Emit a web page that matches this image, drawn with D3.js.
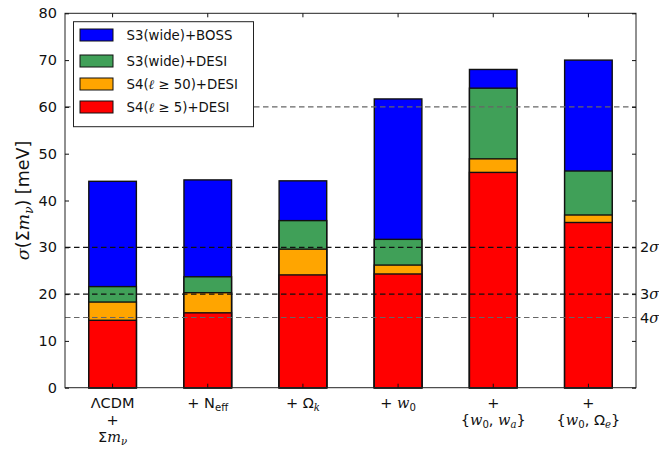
<!DOCTYPE html>
<html><head><meta charset="utf-8">
<script src="https://cdn.jsdelivr.net/npm/d3@7"></script>
<style>body{margin:0;background:#fff}svg{display:block}text{font-family:"DejaVu Sans",sans-serif;}</style>
</head><body><svg id="c" width="659" height="449"></svg>
<script>
const categories = ["LCDM", "Neff", "Ok", "w0", "w0wa", "w0Oe"];
const seriesNames = ["S3(wide)+BOSS", "S3(wide)+DESI", "S4(l>=50)+DESI", "S4(l>=5)+DESI"];
const s3Boss  = [44.1, 44.4, 44.2, 61.7, 68.0, 70.0];
const s3Desi  = [21.6, 23.7, 35.7, 31.7, 64.0, 46.3];
const s4l50   = [18.3, 20.3, 29.6, 26.2, 48.9, 36.9];
const s4l5    = [14.4, 16.0, 24.1, 24.3, 46.0, 35.3];
const seriesColors = ["#0000ff", "#40a058", "#ffa500", "#ff0000"];
const refLines = [60, 30, 20, 15];
const refLabels = ["", "2", "3", "4"];
const yTicks = [0, 10, 20, 30, 40, 50, 60, 70, 80];

const svg = d3.select("#c");
const m = {l: 65, r: 636, t: 13.3, b: 387.7};
const x = d3.scaleBand().domain(categories).range([m.l, m.r]).paddingInner(0.5).paddingOuter(0.25);
const y = d3.scaleLinear().domain([0, 80]).range([m.b, m.t]);
const series = [s3Boss, s3Desi, s4l50, s4l5];

// bars
series.forEach((vals, si) => {
  svg.append("g").selectAll("rect").data(vals).join("rect")
    .attr("x", (d, i) => x(categories[i]))
    .attr("width", x.bandwidth())
    .attr("y", d => y(d))
    .attr("height", d => y(0) - y(d))
    .attr("fill", seriesColors[si])
    .attr("stroke", "#111").attr("stroke-width", 1.4);
});

// reference lines
svg.append("g").selectAll("line").data(refLines).join("line")
  .attr("x1", m.l).attr("x2", m.r)
  .attr("y1", d => y(d)).attr("y2", d => y(d))
  .attr("stroke", (d, i) => (i === 0 || i === 3) ? "#666" : "#111")
  .attr("stroke-width", 1.2).attr("stroke-dasharray", "5.5,3.5");

// right labels
refLines.forEach((v, i) => {
  if (!refLabels[i]) return;
  const t = svg.append("text").attr("x", 640).attr("y", y(v)).attr("dy", "0.35em")
    .attr("font-size", 14.5).attr("fill", "#111");
  t.append("tspan").text(refLabels[i]);
  t.append("tspan").attr("font-family", "DejaVu Serif").attr("font-style", "italic").text("σ");
});

// frame
svg.append("rect").attr("x", m.l).attr("y", m.t).attr("width", m.r - m.l).attr("height", m.b - m.t)
  .attr("fill", "none").attr("stroke", "#222").attr("stroke-width", 1);

// y axis ticks (inward) left and right
const yAxL = d3.axisLeft(y).tickValues(yTicks).tickSizeInner(-4).tickSizeOuter(0).tickPadding(8);
const gL = svg.append("g").attr("transform", `translate(${m.l},0)`).call(yAxL);
gL.select(".domain").remove();
gL.selectAll("text").attr("font-size", 14.5).attr("fill", "#111").attr("font-family", "DejaVu Sans");
gL.selectAll("line").attr("stroke", "#111");
const yAxR = d3.axisRight(y).tickValues(yTicks).tickSizeInner(-4).tickSizeOuter(0).tickFormat("");
const gR = svg.append("g").attr("transform", `translate(${m.r},0)`).call(yAxR);
gR.select(".domain").remove();
gR.selectAll("line").attr("stroke", "#111");

// x ticks bottom and top inward
const xc = c => x(c) + x.bandwidth() / 2;
const xAxB = d3.axisBottom(x).tickSizeInner(-4).tickSizeOuter(0).tickFormat("");
const gB = svg.append("g").attr("transform", `translate(0,${m.b})`).call(xAxB);
gB.select(".domain").remove(); gB.selectAll("line").attr("stroke", "#111");
const xAxT = d3.axisTop(x).tickSizeInner(-4).tickSizeOuter(0).tickFormat("");
const gT = svg.append("g").attr("transform", `translate(0,${m.t})`).call(xAxT);
gT.select(".domain").remove(); gT.selectAll("line").attr("stroke", "#111");

// x labels
const fs = 14.5;
function lbl(cx, yb, parts) {
  const t = svg.append("text").attr("x", cx).attr("y", yb).attr("text-anchor", "middle")
    .attr("font-size", fs).attr("fill", "#111");
  parts.forEach(p => {
    const s = t.append("tspan").text(p.t);
    if (p.it) s.attr("font-family", "DejaVu Serif").attr("font-style", "italic");
    if (p.sub) s.attr("font-size", fs * 0.7).attr("dy", p.sub);
    if (p.dy) s.attr("dy", p.dy);
  });
}
const rows = [408, 425, 442];
lbl(xc(categories[0]), rows[0], [{t: "ΛCDM"}]);
lbl(xc(categories[0]), rows[1], [{t: "+"}]);
lbl(xc(categories[0]), rows[2], [{t: "Σ"}, {t: "m", it: 1}, {t: "ν", it: 1, sub: 3}]);
lbl(xc(categories[1]), rows[0], [{t: "+ N"}, {t: "eff", sub: 3}]);
lbl(xc(categories[2]), rows[0], [{t: "+ Ω"}, {t: "k", it: 1, sub: 3}]);
lbl(xc(categories[3]), rows[0], [{t: "+ "}, {t: "w", it: 1}, {t: "0", sub: 3}]);
lbl(xc(categories[4]), rows[0], [{t: "+"}]);
lbl(xc(categories[4]), rows[1], [{t: "{"}, {t: "w", it: 1}, {t: "0", sub: 3}, {t: ", ", dy: -3}, {t: "w", it: 1}, {t: "a", it: 1, sub: 3}, {t: "}", dy: -3}]);
lbl(xc(categories[5]), rows[0], [{t: "+"}]);
lbl(xc(categories[5]), rows[1], [{t: "{"}, {t: "w", it: 1}, {t: "0", sub: 3}, {t: ", Ω", dy: -3}, {t: "e", it: 1, sub: 3}, {t: "}", dy: -3}]);

// y label
const yl = svg.append("text").attr("transform", `translate(29,${(m.t + m.b) / 2}) rotate(-90)`)
  .attr("text-anchor", "middle").attr("font-size", 17.5).attr("fill", "#111");
yl.append("tspan").attr("font-family", "DejaVu Serif").attr("font-style", "italic").text("σ");
yl.append("tspan").text("(Σ");
yl.append("tspan").attr("font-family", "DejaVu Serif").attr("font-style", "italic").text("m");
yl.append("tspan").attr("font-family", "DejaVu Serif").attr("font-style", "italic").attr("font-size", 12).attr("dy", 3.5).text("ν");
yl.append("tspan").attr("dy", -3.5).text(") [meV]");

// legend
const lg = svg.append("g");
lg.append("rect").attr("x", 73.5).attr("y", 21.7).attr("width", 180).attr("height", 105)
  .attr("fill", "#fff").attr("stroke", "#222").attr("stroke-width", 1);
const legendRows = [35, 61, 84, 107];
const legendLabels = [
  [{t: "S3(wide)+BOSS"}],
  [{t: "S3(wide)+DESI"}],
  [{t: "S4("}, {t: "ℓ", it: 1}, {t: " ≥ 50)+DESI"}],
  [{t: "S4("}, {t: "ℓ", it: 1}, {t: " ≥ 5)+DESI"}]
];
seriesNames.forEach((n, i) => {
  lg.append("rect").attr("x", 80).attr("y", legendRows[i] - 6).attr("width", 33).attr("height", 12)
    .attr("fill", seriesColors[i]).attr("stroke", "#111").attr("stroke-width", 1);
  const t = lg.append("text").attr("x", 126.5).attr("y", legendRows[i]).attr("dy", "0.36em")
    .attr("font-size", 13.3).attr("fill", "#111");
  legendLabels[i].forEach(p => {
    const s = t.append("tspan").text(p.t);
    if (p.it) s.attr("font-family", "DejaVu Serif").attr("font-style", "italic");
  });
});
</script></body></html>
